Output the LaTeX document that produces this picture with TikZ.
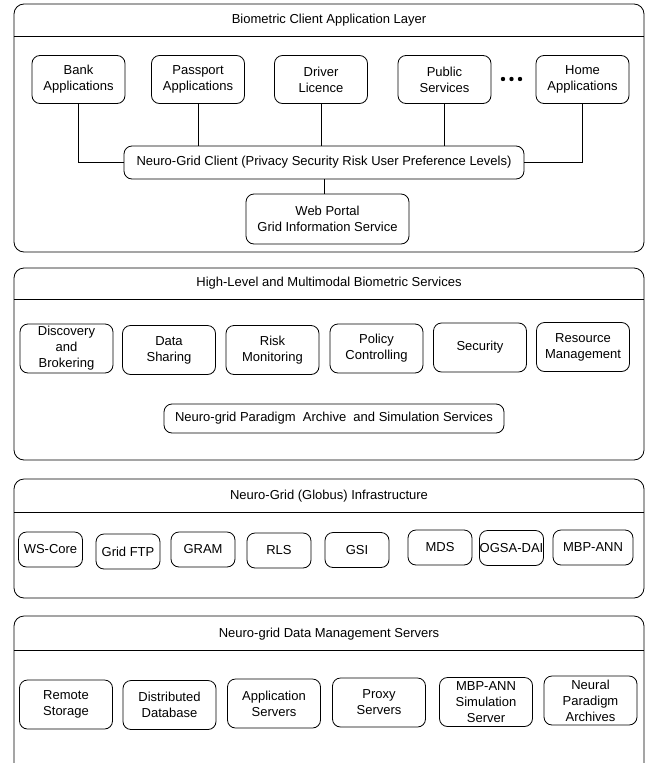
\documentclass[tikz,border=0pt]{standalone}
\usepackage{fontspec}
\setmainfont{Liberation Sans}
\usepackage{tikz}
\usetikzlibrary{calc}

\begin{document}
\begin{tikzpicture}[x=1pt, y=-1pt, line width=0.8pt,
    every node/.style={font=\fontsize{13}{16}\selectfont},
    layerbox/.style={draw, rounded corners=10pt},
    appbox/.style={draw, rounded corners=8pt, align=center, inner sep=0pt, minimum width=93pt, minimum height=48pt},
    toolbox/.style={appbox, minimum width=64pt, minimum height=35pt},
]
    \useasboundingbox (0, 0) rectangle (646, 763);

    % 四个层的外框
    \foreach \top/\bot/\sep in {4/252/36, 268/460/299, 479/598/512, 616/780/650} {%
            \draw [layerbox] (14, \top) rectangle (644, \bot);
            \draw (14, \sep) -- (644, \sep);
        };
    \node (clienttitle) at (329, 20) {Biometric Client Application Layer};
    \node (servicetitle) at (329, 283) {High-Level and Multimodal Biometric Services};
    \node (globustitle) at (329, 496) {Neuro-Grid (Globus) Infrastructure};
    \node (servertitle) at (329, 634) {Neuro-grid Data Management Servers};

    % 第一层: 应用
    \foreach \name/\x/\txt in {bank/78.5/{Bank\\Applications}, passport/198/{Passport\\Applications}, driver/321/{Driver\\Licence}, public/444.5/{Public\\Services}, home/582.5/{Home\\Applications}} {%
            \node (\name) [appbox] at (\x, 79.5) {\txt};
        };
    \foreach \x in {503, 511.5, 520} {%
            \fill (\x, 79) circle (2.2pt);
        };
    \node (client) [appbox, minimum width=400pt, minimum height=33pt] at (324, 162.5) {Neuro-Grid Client (Privacy Security Risk User Preference Levels)};
    \node (portal) [appbox, minimum width=163pt, minimum height=50pt] at (327.5, 219) {Web Portal\\Grid Information Service};

    % 连线
    \draw (bank.south) |- (client.west);
    \draw (home.south) |- (client.east);
    \foreach \name in {passport, driver, public} {%
            \draw (\name.south) -- (\name.south |- client.north);
        };
    \draw (client.south) -- (client.south |- portal.north);

    % 第二层: 服务
    \foreach \name/\x/\y/\txt in {discovery/66.5/348.5/{Discovery\\and\\Brokering}, sharing/169/350/{Data\\Sharing}, risk/272.5/350/{Risk\\Monitoring}, policy/376.5/348.5/{Policy\\Controlling}, security/480/347.5/{Security}, resource/583/347/{Resource\\Management}} {%
            \node (\name) [appbox, minimum height=49pt] at (\x, \y) {\txt};
        };
    \node (archive) [appbox, minimum width=340pt, minimum height=29pt] at (334, 418.5) {Neuro-grid Paradigm\ \ Archive\ \ and Simulation Services};

    % 第三层: Globus
    \foreach \name/\x/\y/\txt in {wscore/50.5/549.5/{WS-Core}, gridftp/128/551.5/{Grid FTP}, gram/203/549.5/{GRAM}, rls/279/550.5/{RLS}, gsi/357/550/{GSI}, mds/440/547.5/{MDS}, ogsadai/511.5/548/{OGSA-DAI}} {%
            \node (\name) [toolbox] at (\x, \y) {\txt};
        };
    \node (mbpann) [toolbox, minimum width=80pt] at (593, 547.5) {MBP-ANN};

    % 第四层: 服务器
    \foreach \name/\x/\y/\txt in {storage/66/704.5/{Remote\\Storage}, database/169.5/705/{Distributed\\Database}, appserver/274/703.5/{Application\\Servers}, proxy/379/702.5/{Proxy\\Servers}, simserver/486/702/{MBP-ANN\\Simulation\\Server}, archives/590.5/700.5/{Neural\\Paradigm\\Archives}} {%
            \node (\name) [appbox, minimum height=49pt] at (\x, \y) {\txt};
        };
\end{tikzpicture}
\end{document}
